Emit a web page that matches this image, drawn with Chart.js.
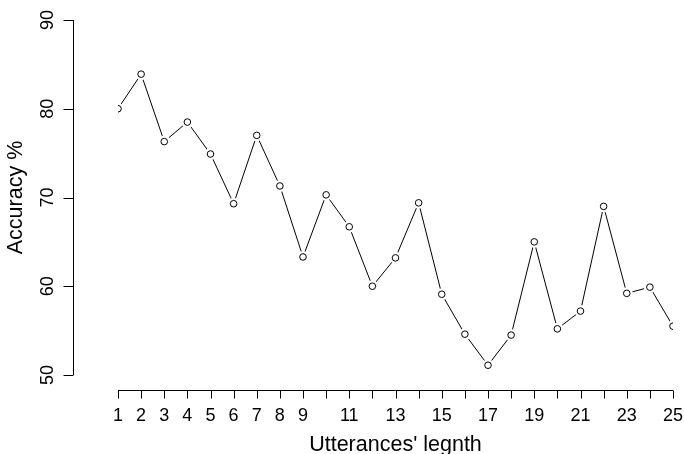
<!DOCTYPE html>
<html>
<head>
<meta charset="utf-8">
<script src="https://cdn.jsdelivr.net/npm/chart.js@4/dist/chart.umd.min.js"></script>
<style>
  html, body { margin: 0; padding: 0; background: #fff; }
  #wrap { width: 684px; height: 454px; }
</style>
</head>
<body>
<div id="wrap"><canvas id="accChart" width="684" height="454"></canvas></div>
<script>
        // lunghezza degli enunciati e accuratezza (%)
        const lengths = [1, 2, 3, 4, 5, 6, 7, 8, 9, 10, 11, 12, 13, 14, 15, 16, 17, 18, 19, 20, 21, 22, 23, 24, 25];
        const accuracy = [80.0, 83.9, 76.3, 78.5, 74.9, 69.3, 77.0, 71.3, 63.3, 70.3, 66.7, 60.0, 63.2, 69.4,
                          59.1, 54.6, 51.1, 54.5, 65.0, 55.2, 57.2, 69.0, 59.2, 59.9, 55.5];
        const xTickLabels = ['1', '2', '3', '4', '5', '6', '7', '8', '9', '', '11', '', '13', '',
                             '15', '', '17', '', '19', '', '21', '', '23', '', '25'];
        const yTicks = [50, 60, 70, 80, 90];

        const FONT = "'Liberation Sans', Arial, Helvetica, sans-serif";
        const points = lengths.map((x, i) => ({ x: x, y: accuracy[i] }));

        // niente padding extra dalle etichette
        function noPad(s) {
            s.paddingTop = 0;
            s.paddingBottom = 0;
            s.paddingLeft = 0;
            s.paddingRight = 0;
        }

        // assi staccati in stile R (etichette y ruotate)
        const rAxes = {
            id: 'rAxes',
            afterDraw(chart) {
                const ctx = chart.ctx;
                const xs = chart.scales.x;
                const ys = chart.scales.y;
                ctx.save();
                ctx.strokeStyle = '#000';
                ctx.lineWidth = 1;
                // asse y
                const ax = 73.5;
                ctx.beginPath();
                ctx.moveTo(ax, ys.getPixelForValue(yTicks[0]));
                ctx.lineTo(ax, ys.getPixelForValue(yTicks[yTicks.length - 1]));
                yTicks.forEach(v => {
                    const p = Math.round(ys.getPixelForValue(v)) + 0.5;
                    ctx.moveTo(ax, p);
                    ctx.lineTo(ax - 10, p);
                });
                ctx.stroke();
                ctx.fillStyle = '#000';
                ctx.font = '18px ' + FONT;
                ctx.textAlign = 'center';
                ctx.textBaseline = 'middle';
                yTicks.forEach(v => {
                    ctx.save();
                    ctx.translate(48, ys.getPixelForValue(v));
                    ctx.rotate(-Math.PI / 2);
                    ctx.fillText(String(v), 0, 0);
                    ctx.restore();
                });
                // asse x
                const ay = 390.5;
                ctx.beginPath();
                ctx.moveTo(xs.getPixelForValue(lengths[0]), ay);
                ctx.lineTo(xs.getPixelForValue(lengths[lengths.length - 1]), ay);
                lengths.forEach(v => {
                    const p = Math.round(xs.getPixelForValue(v)) + 0.5;
                    ctx.moveTo(p, ay);
                    ctx.lineTo(p, ay + 8);
                });
                ctx.stroke();
                ctx.restore();
            }
        };

        const ctx = document.getElementById('accChart').getContext('2d');
        new Chart(ctx, {
            type: 'scatter',
            data: {
                datasets: [
                    {
                        label: 'markers',
                        data: points,
                        showLine: false,
                        pointRadius: 3.3,
                        pointBackgroundColor: 'rgba(0,0,0,0)',
                        pointBorderColor: '#000',
                        pointBorderWidth: 1,
                        order: 1
                    },
                    {
                        label: 'gaps',
                        data: points,
                        showLine: false,
                        pointRadius: 6,
                        pointBackgroundColor: '#fff',
                        pointBorderWidth: 0,
                        pointBorderColor: '#fff',
                        order: 2
                    },
                    {
                        label: 'line',
                        data: points,
                        showLine: true,
                        borderColor: '#000',
                        borderWidth: 1,
                        pointRadius: 0,
                        tension: 0,
                        order: 3
                    }
                ]
            },
            plugins: [rAxes],
            options: {
                responsive: false,
                animation: false,
                layout: { padding: { top: 20, right: 11, left: 0, bottom: 0 } },
                plugins: {
                    legend: { display: false },
                    tooltip: { enabled: false }
                },
                scales: {
                    x: {
                        type: 'linear',
                        min: 1,
                        max: 25,
                        afterBuildTicks: s => { s.ticks = lengths.map(v => ({ value: v })); },
                        afterFit: s => { s.height = 79; noPad(s); },
                        grid: { display: false, drawTicks: false },
                        border: { display: false },
                        ticks: {
                            autoSkip: false,
                            maxRotation: 0,
                            padding: 30,
                            color: '#000',
                            font: { family: FONT, size: 18 },
                            callback: (v, i) => xTickLabels[i]
                        },
                        title: {
                            display: true,
                            text: "Utterances' legnth",
                            color: '#000',
                            font: { family: FONT, size: 21.5, lineHeight: 0.85 },
                            padding: { top: 0, bottom: 0 }
                        }
                    },
                    y: {
                        min: 50,
                        max: 90,
                        afterBuildTicks: s => { s.ticks = yTicks.map(v => ({ value: v })); },
                        afterFit: s => { s.width = 118; noPad(s); },
                        grid: { display: false, drawTicks: false },
                        border: { display: false },
                        ticks: { display: false },
                        title: {
                            display: true,
                            text: 'Accuracy %',
                            color: '#000',
                            font: { family: FONT, size: 21.5 },
                            padding: { top: 3, bottom: 0 }
                        }
                    }
                }
            }
        });
</script>
</body>
</html>
